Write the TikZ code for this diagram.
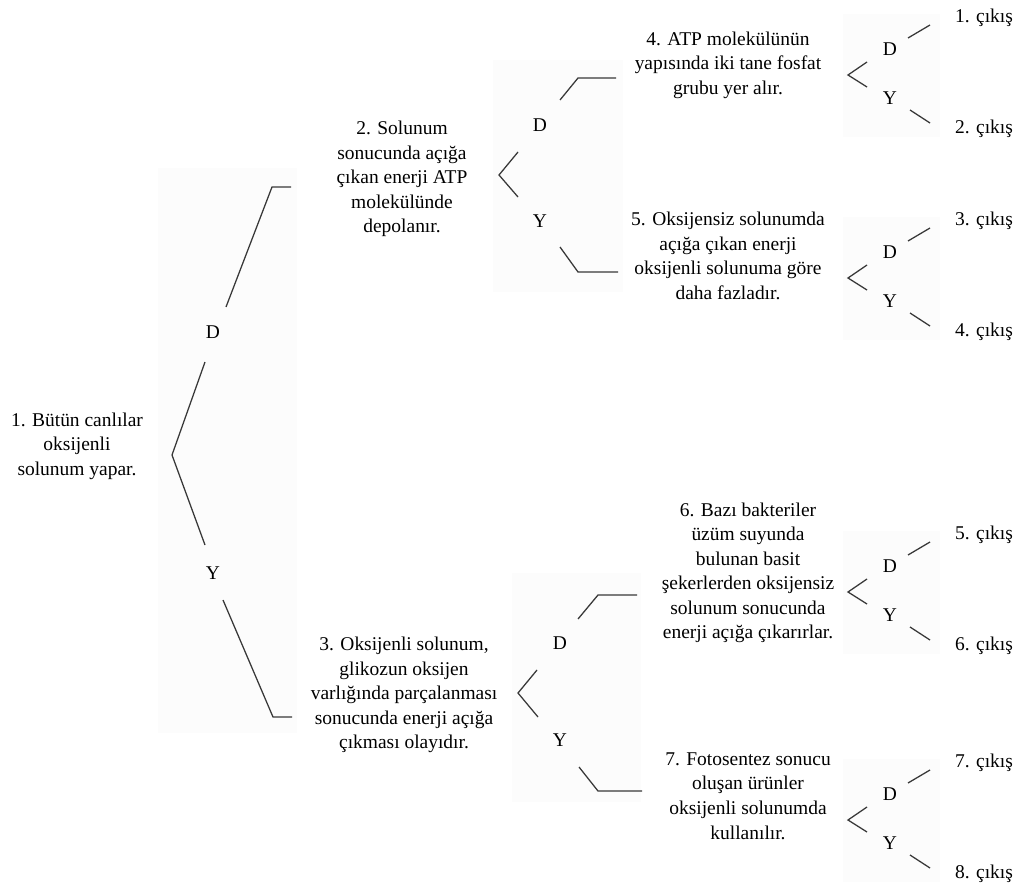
\documentclass[tikz,border=0pt]{standalone}
\usepackage{fontspec}
\setmainfont{Liberation Serif}
\newfontfamily\trfont{Liberation Serif}
\begin{document}
\begin{tikzpicture}[x=0.75pt,y=-0.75pt,
  txt/.style={align=center, font=\trfont\fontsize{14.6}{18.4}\selectfont, inner sep=0pt},
  lbl/.style={font=\trfont\fontsize{14.6}{18.4}\selectfont, inner sep=0pt},
  ln/.style={draw=black!78, line width=0.95pt},
  bg/.style={fill=black!1.2, draw=none}]
\useasboundingbox (0,0) rectangle (1023,884);
% faint panels
\fill[bg] (158,168) rectangle (297,733);
\fill[bg] (493,60) rectangle (623,292);
\fill[bg] (512,573) rectangle (641,802);
\foreach \vy in {75,278,592,820}{
  \fill[bg] (843,\vy-61) rectangle (940,\vy+62);
}
% main statements
\node[txt] (n1) at (77,446) {1. Bütün canlılar\\oksijenli\\solunum yapar.};
\node[txt] (n2) at (402,179) {2. Solunum\\sonucunda açığa\\çıkan enerji ATP\\molekülünde\\depolanır.};
\node[txt] (n3) at (404,695) {3. Oksijenli solunum,\\glikozun oksijen\\varlığında parçalanması\\sonucunda enerji açığa\\çıkması olayıdır.};
\node[txt] (n4) at (728,65) {4. ATP molekülünün\\yapısında iki tane fosfat\\grubu yer alır.};
\node[txt] (n5) at (728,256) {5. Oksijensiz solunumda\\açığa çıkan enerji\\oksijenli solunuma göre\\daha fazladır.};
\node[txt] (n6) at (748,573) {6. Bazı bakteriler\\üzüm suyunda\\bulunan basit\\şekerlerden oksijensiz\\solunum sonucunda\\enerji açığa çıkarırlar.};
\node[txt] (n7) at (748,796) {7. Fotosentez sonucu\\oluşan ürünler\\oksijenli solunumda\\kullanılır.};
% first level
\node[lbl] (d1) at (213,332) {D};
\node[lbl] (y1) at (213,573) {Y};
\coordinate (v1) at (172,455);
\coordinate (d1a) at (205,362); \coordinate (d1b) at (226,307);
\coordinate (d1c) at (272,187); \coordinate (d1e) at (291,187);
\coordinate (y1a) at (205,545); \coordinate (y1b) at (223,600);
\coordinate (y1c) at (273,717); \coordinate (y1e) at (292,717);
\draw[ln] (d1a) -- (v1) -- (y1a);
\draw[ln] (d1b) -- (d1c) -- (d1e);
\draw[ln] (y1b) -- (y1c) -- (y1e);
% second level, node 2
\node[lbl] (d2) at (540,125) {D};
\node[lbl] (y2) at (540,221) {Y};
\coordinate (v2) at (499,175);
\coordinate (v2t) at (518,152); \coordinate (v2b) at (518,197);
\coordinate (d2b) at (560,100); \coordinate (d2c) at (578,78); \coordinate (d2e) at (616,78);
\coordinate (y2b) at (560,247); \coordinate (y2c) at (578,272); \coordinate (y2e) at (618,272);
\draw[ln] (v2t) -- (v2) -- (v2b);
\draw[ln] (d2b) -- (d2c) -- (d2e);
\draw[ln] (y2b) -- (y2c) -- (y2e);
% second level, node 3
\node[lbl] (d3) at (560,643) {D};
\node[lbl] (y3) at (560,740) {Y};
\coordinate (v3) at (518,693);
\coordinate (v3t) at (537,670); \coordinate (v3b) at (538,717);
\coordinate (d3b) at (578,619); \coordinate (d3c) at (598,595); \coordinate (d3e) at (637,595);
\coordinate (y3b) at (579,767); \coordinate (y3c) at (598,791); \coordinate (y3e) at (642,791);
\draw[ln] (v3t) -- (v3) -- (v3b);
\draw[ln] (d3b) -- (d3c) -- (d3e);
\draw[ln] (y3b) -- (y3c) -- (y3e);
% third level
\foreach \vy/\k/\a/\b in {75/4/1/2, 278/5/3/4, 592/6/5/6, 820/7/7/8}{
  \coordinate (s\k) at (848,\vy);
  \coordinate (s\k t) at (867,\vy-13);
  \coordinate (s\k b) at (867,\vy+12);
  \draw[ln] (s\k t) -- (s\k) -- (s\k b);
  \node[lbl] (sd\k) at (890,\vy-26) {D};
  \node[lbl] (sy\k) at (890,\vy+23) {Y};
  \coordinate (sd\k a) at (908,\vy-37); \coordinate (sd\k e) at (930,\vy-50);
  \coordinate (sy\k a) at (910,\vy+35); \coordinate (sy\k e) at (930,\vy+48);
  \draw[ln] (sd\k a) -- (sd\k e);
  \draw[ln] (sy\k a) -- (sy\k e);
  \node[lbl] (o\a) at (984,\vy-57) {\a. çıkış};
  \node[lbl] (o\b) at (984,\vy+54) {\b. çıkış};
}
\end{tikzpicture}
\end{document}
